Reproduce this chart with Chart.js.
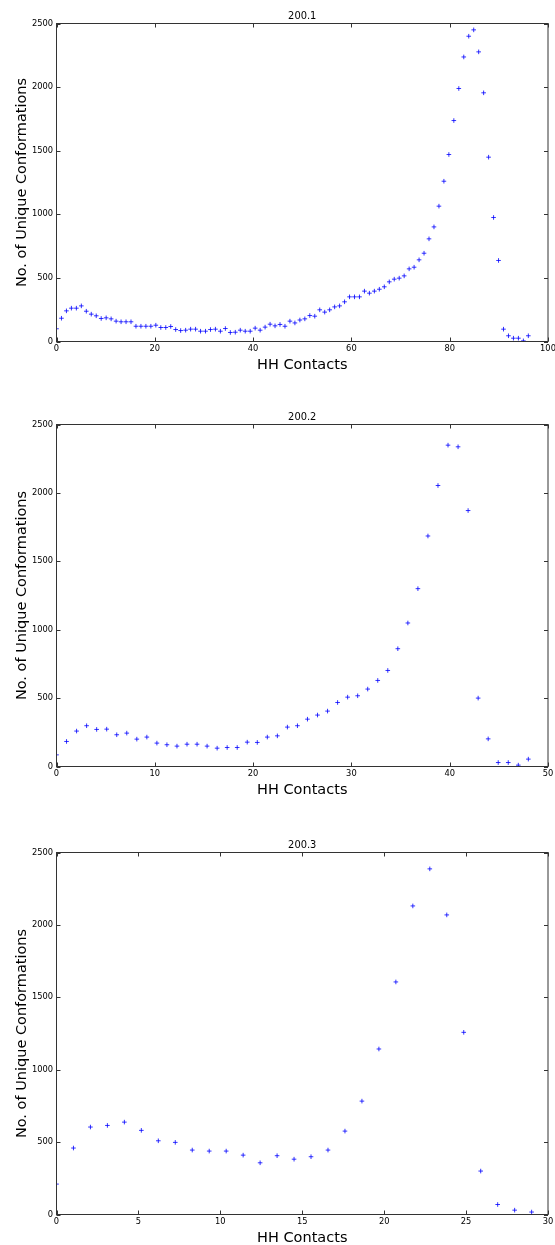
<!DOCTYPE html>
<html>
<head>
<meta charset="utf-8">
<script src="https://cdn.jsdelivr.net/npm/chart.js@4.4.1/dist/chart.umd.min.js"></script>
<style>
  html, body { margin: 0; padding: 0; width: 555px; height: 1245px; overflow: hidden; background: #fff; }
  .panel { position: absolute; left: 0; width: 555px; }
  canvas { display: block; }
</style>
</head>
<body>
<div class="panel" style="top:10px"><canvas id="chart-1" width="555" height="364"></canvas></div>
<div class="panel" style="top:411px"><canvas id="chart-2" width="555" height="388"></canvas></div>
<div class="panel" style="top:839px"><canvas id="chart-3" width="555" height="408"></canvas></div>
<script>
// Titles of the three runs
const RUN_TITLES = ["200.1", "200.2", "200.3"];

// Unique conformations per HH contact bin (one value per bin)
const conformations1 = [
  100, 183, 241, 262, 262, 280, 238, 215, 202, 181,
  186, 178, 160, 155, 155, 155, 120, 120, 120, 120,
  128, 110, 110, 118, 94, 86, 89, 97, 97, 81,
  81, 94, 97, 81, 102, 71, 73, 89, 81, 81,
  105, 89, 113, 136, 123, 134, 120, 160, 146, 169,
  178, 204, 199, 249, 231, 249, 272, 280, 312, 351,
  351, 351, 396, 380, 396, 411, 430, 469, 490, 498,
  516, 571, 584, 642, 694, 807, 901, 1064, 1260, 1470,
  1737, 1989, 2237, 2400, 2450, 2277, 1955, 1449, 975, 637,
  97, 45, 26, 26, 5, 45
];
const conformations2 = [
  85, 183, 259, 298, 271, 273, 232, 244, 200, 215,
  171, 159, 149, 163, 163, 149, 134, 139, 139, 178,
  176, 215, 224, 288, 298, 346, 376, 405, 468, 507,
  517, 566, 629, 702, 861, 1049, 1300, 1685, 2054, 2349,
  2337, 1871, 500, 202, 29, 29, 10, 54
];
const conformations3 = [
  210, 459, 604, 615, 638, 581, 509, 498, 445, 438,
  438, 410, 357, 406, 382, 399, 445, 576, 783, 1143,
  1606, 2131, 2387, 2069, 1258, 300, 69, 30, 17
];

// Axis ranges and tick steps
const X_MAX = [100, 50, 30];
const X_STEP = [20, 10, 5];
const Y_MAX = 2500;
const Y_STEP = 500;

const X_LABEL = "HH Contacts";
const Y_LABEL = "No. of Unique Conformations";

Chart.defaults.font.family = "'DejaVu Sans', sans-serif";
Chart.defaults.color = "#000";

// matplotlib "classic" look: a full box round the axes with ticks pointing inwards
const frameTicks = {
  id: "frameTicks",
  afterDatasetsDraw(chart) {
    const { ctx, chartArea: a, scales } = chart;
    const len = 4;
    ctx.save();
    ctx.strokeStyle = "#333";
    ctx.lineWidth = 1;
    ctx.strokeRect(a.left, a.top, a.right - a.left, a.bottom - a.top);
    ctx.beginPath();
    scales.x.ticks.forEach((t) => {
      const px = Math.round(scales.x.getPixelForValue(t.value)) + 0.5;
      ctx.moveTo(px, a.bottom);
      ctx.lineTo(px, a.bottom - len);
      ctx.moveTo(px, a.top);
      ctx.lineTo(px, a.top + len);
    });
    scales.y.ticks.forEach((t) => {
      const py = Math.round(scales.y.getPixelForValue(t.value)) + 0.5;
      ctx.moveTo(a.left, py);
      ctx.lineTo(a.left + len, py);
      ctx.moveTo(a.right, py);
      ctx.lineTo(a.right - len, py);
    });
    ctx.stroke();
    ctx.restore();
  },
};

const PANELS = [
  { id: "chart-1", title: RUN_TITLES[0], values: conformations1, xMax: X_MAX[0], xStep: X_STEP[0] },
  { id: "chart-2", title: RUN_TITLES[1], values: conformations2, xMax: X_MAX[1], xStep: X_STEP[1] },
  { id: "chart-3", title: RUN_TITLES[2], values: conformations3, xMax: X_MAX[2], xStep: X_STEP[2] },
];

PANELS.forEach(renderPanel);

function renderPanel(panel) {
  // bins were spread evenly over 0..n (n bins), so bin i sits at i * n / (n - 1)
  const n = panel.values.length;
  const points = panel.values.map((v, i) => ({ x: (i * n) / (n - 1), y: v }));

  new Chart(document.getElementById(panel.id), {
    type: "scatter",
    data: {
      datasets: [
        {
          data: points,
          pointStyle: "cross",
          pointRadius: 2.3,
          pointHoverRadius: 2.3,
          pointBorderWidth: 1,
          borderColor: "rgba(0, 0, 255, 0.8)",
          backgroundColor: "rgba(0, 0, 255, 0.8)",
        },
      ],
    },
    options: {
      responsive: false,
      animation: false,
      events: [],
      layout: { padding: { left: 0, right: 7, top: 0, bottom: 0 } },
      plugins: {
        legend: { display: false },
        tooltip: { enabled: false },
        title: {
          display: true,
          fullSize: false,
          text: panel.title,
          color: "#000",
          font: { size: 9.9, weight: "normal", lineHeight: "12px" },
          padding: { top: 0, bottom: 1.5 },
        },
      },
      scales: {
        x: {
          type: "linear",
          min: 0,
          max: panel.xMax,
          grid: { display: false, drawTicks: false },
          border: { display: false },
          ticks: {
            stepSize: panel.xStep,
            padding: 2,
            maxRotation: 0,
            color: "#000",
            font: { size: 8.3 },
            callback: (v) => String(v),
          },
          title: {
            display: true,
            text: X_LABEL,
            color: "#000",
            font: { size: 14.5 },
            padding: { top: 0, bottom: 0 },
          },
          afterFit: (s) => {
            s.height = 32.5;
            s.paddingLeft = 0;
            s.paddingRight = 0;
          },
        },
        y: {
          type: "linear",
          min: 0,
          max: Y_MAX,
          grid: { display: false, drawTicks: false },
          border: { display: false },
          ticks: {
            stepSize: Y_STEP,
            padding: 3.5,
            color: "#000",
            font: { size: 8.3 },
            callback: (v) => String(v),
          },
          title: {
            display: true,
            text: Y_LABEL,
            color: "#000",
            font: { size: 14.5 },
            padding: { top: 13.3, bottom: 0 },
          },
          afterFit: (s) => {
            s.width = 56.5;
            s.paddingTop = 0;
            s.paddingBottom = 0;
          },
        },
      },
    },
    plugins: [frameTicks],
  });
}
</script>
</body>
</html>
